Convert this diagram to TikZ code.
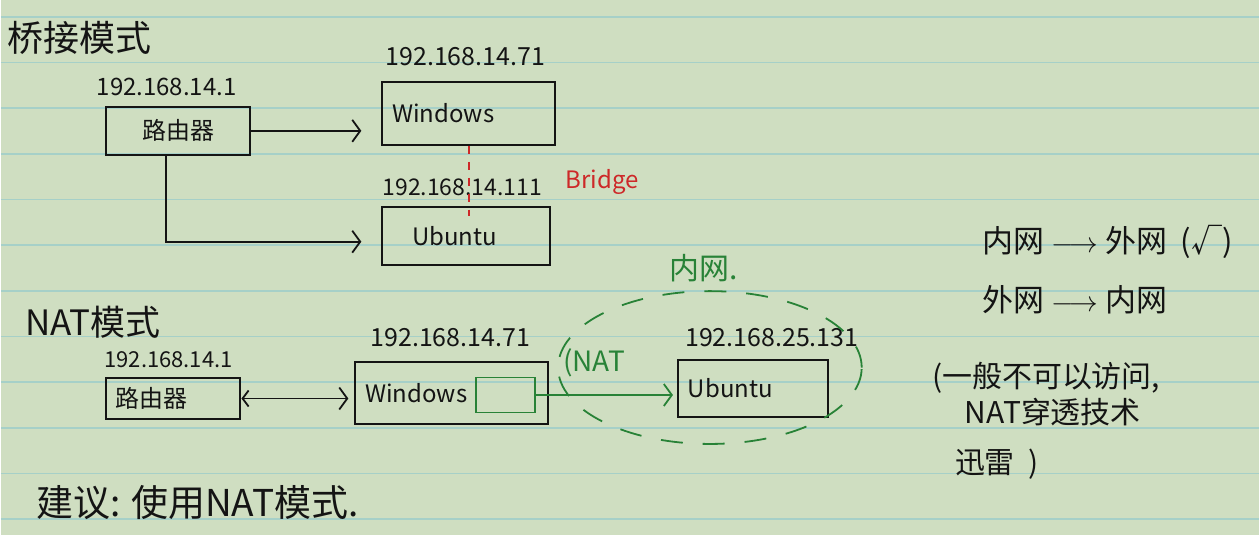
\documentclass[tikz,border=0pt]{standalone}
\usepackage{fontspec}
\newfontfamily\cjk{Noto Sans CJK SC}
\usetikzlibrary{arrows.meta}
\usetikzlibrary{shapes.geometric}

\definecolor{paper}{RGB}{207,222,193}
\definecolor{rule}{RGB}{166,208,200}
\definecolor{ink}{RGB}{20,20,20}
\definecolor{redink}{RGB}{205,40,40}
\definecolor{greenink}{RGB}{40,130,55}

\tikzset{
    hand/.style={font=\cjk\fontsize{#1}{#1}\selectfont, text=ink, inner sep=0pt},
    box/.style args={#1x#2}{draw=ink, line width=1pt, minimum height=#2, text width=#1,
        align=left, inner xsep=5pt, inner ysep=0pt, font=\cjk\fontsize{12}{12}\selectfont, text=ink},
    link/.style={draw=ink, line width=0.9pt, -{Straight Barb[length=4pt,width=11pt]}},
}

\begin{document}
\begin{tikzpicture}[x=0.5pt, y=-0.5pt]

    % paper and ruled lines
    \fill[paper] (0, 0) rectangle (1260, 536);
    \foreach \k in {0,...,11}{
        \draw[rule, line width=0.8pt] (0, {17 + 45.7*\k}) -- (1260, {17 + 45.7*\k});
    }
    \useasboundingbox (0, 0) rectangle (1260, 536);

    % Bridge mode
    \node[hand=18, anchor=west] (bridgetitle) at (6, 38) {桥接模式};
    \node[hand=12] (ipa) at (166, 87) {192.168.14.1};
    \node[box={62.5pt}x{24pt}, align=center] (routera) at (177.5, 131) {路由器};
    \node[hand=12.5] (ipb) at (465, 57) {192.168.14.71};
    \node[box={76.5pt}x{31.5pt}] (wina) at (468.5, 113.5) {Windows};
    \node[hand=11.5] (ipc) at (462, 188) {192.168.14.111};
    \node[box={74pt}x{29pt}] (ubua) at (466, 236) {\hspace{10pt}Ubuntu};

    \draw[link, shorten >=10pt] (routera.east) -- (routera.east -| wina.west);
    \draw[link, shorten >=10pt] ([xshift=-6pt]routera.south) |- ([yshift=-3pt]ubua.west);
    \draw[redink, line width=0.8pt, dash pattern=on 4pt off 4pt]
        (wina.south) -- ([yshift=-5pt]wina.south |- ubua.north);
    \node[hand=12, text=redink] (bridge) at (602, 182) {Bridge};

    % NAT mode
    \node[hand=17.5] (nattitle) at (92, 323) {NAT模式};
    \node[hand=11] (ipd) at (168, 360) {192.168.14.1};
    \node[box={57.5pt}x{21pt}] (routerb) at (172.5, 399) {路由器};
    \node[hand=12.5] (ipe) at (450, 338) {192.168.14.71};
    \node[box={86.5pt}x{31.5pt}] (winb) at (451.5, 393.5) {Windows};
    \node[draw=greenink, line width=0.9pt, minimum width=29.5pt, minimum height=17.5pt,
        inner sep=0pt] (natbox) at (505.5, 395.5) {};
    \node[hand=12.5] (ipf) at (772, 338) {192.168.25.131};
    \node[box={65pt}x{29pt}] (ubub) at (753, 389) {Ubuntu};
    \node[ellipse, draw=greenink, line width=0.9pt, dash pattern=on 11pt off 10pt,
        minimum width=152pt, minimum height=76.5pt] (lan) at (710, 368) {};
    \node[hand=15, text=greenink] (lanlabel) at (704, 268) {内网.};
    \node[hand=14, text=greenink] (natlabel) at (594, 363) {(NAT};

    \draw[link, {Straight Barb[length=3pt,width=8pt]}-{Straight Barb[length=4pt,width=11pt]},
        shorten >=3pt] (routerb.east) -- (routerb.east -| winb.west);
    \draw[link, greenink, shorten >=2pt] (natbox.east) -- (natbox.east -| ubub.west);

    % notes
    \node[hand=15.5, anchor=west] (notea) at (983, 242) {内网 $\longrightarrow$ 外网 \ (√)};
    \node[hand=15.5, anchor=west] (noteb) at (983, 300) {外网 $\longrightarrow$ 内网};
    \node[hand=15, anchor=west] (notec) at (932, 378) {(一般不可以访问,};
    \node[hand=15, anchor=west] (noted) at (965, 413) {NAT穿透技术};
    \node[hand=15, anchor=west] (notee) at (955, 465) {迅雷 \ )};
    \node[hand=18.5, anchor=west] (advice) at (35, 503) {建议: 使用NAT模式.};

\end{tikzpicture}
\end{document}
